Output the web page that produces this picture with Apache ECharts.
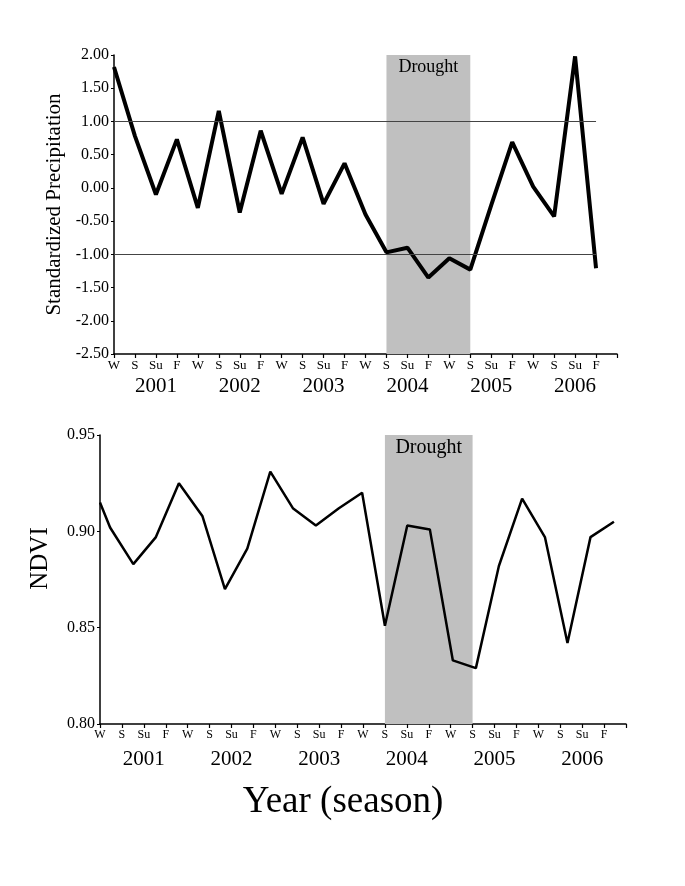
<!DOCTYPE html>
<html>
<head>
<meta charset="utf-8">
<script src="https://cdn.jsdelivr.net/npm/echarts@6/dist/echarts.min.js"></script>
<style>
  html, body { margin: 0; padding: 0; background: #fff; }
  #chart { width: 685px; height: 886px; }
</style>
</head>
<body>
<div id="chart"></div>
<script>
// season labels along both x axes (W, S, Su, F for 2001-2006)
const seasons = ["W", "S", "Su", "F", "W", "S", "Su", "F", "W", "S", "Su", "F",
  "W", "S", "Su", "F", "W", "S", "Su", "F", "W", "S", "Su", "F"];
const years = ["2001", "2002", "2003", "2004", "2005", "2006"];

// top panel: standardized precipitation per season
const precip = [1.82, 0.78, -0.10, 0.73, -0.30, 1.16, -0.37, 0.86, -0.09, 0.76, -0.24, 0.37,
  -0.40, -0.97, -0.90, -1.35, -1.06, -1.23, -0.26, 0.69, 0.02, -0.43, 1.98, -1.21];
const precipTicks = { min: -2.5, max: 2.0, step: 0.5 };
const refLines = [1.0, -1.0];

// bottom panel: NDVI, sampled at these positions (in season units)
const ndviX = [0, 0.46, 1.52, 2.55, 3.6, 4.67, 5.7, 6.72, 7.77, 8.8, 9.85, 10.9,
  11.96, 13.0, 14.02, 15.05, 16.1, 17.15, 18.2, 19.26, 20.3, 21.33, 22.38, 23.45];
const ndvi = [0.915, 0.902, 0.883, 0.897, 0.925, 0.908, 0.870, 0.891, 0.931, 0.912, 0.903, 0.912,
  0.920, 0.851, 0.903, 0.901, 0.833, 0.829, 0.882, 0.917, 0.897, 0.842, 0.897, 0.905];
const ndviTicks = { min: 0.80, max: 0.95, step: 0.05 };

// drought period (season index range)
const drought = [13, 17];

const serif = "'Liberation Serif', 'DejaVu Serif', serif";

const chart = echarts.init(document.getElementById("chart"));

function seasonAxis(gridIndex, fontSize) {
  return {
    type: "value",
    gridIndex: gridIndex,
    min: 0,
    max: 24,
    interval: 1,
    axisLine: { onZero: false, lineStyle: { color: "#000", width: 1.5 } },
    axisTick: { show: true, length: 4, lineStyle: { color: "#000", width: 1.2 } },
    axisLabel: {
      color: "#000",
      fontFamily: serif,
      fontSize: fontSize,
      margin: 5,
      showMinLabel: true,
      showMaxLabel: true,
      formatter: (v) => seasons[v] || ""
    },
    splitLine: { show: false }
  };
}

function yearAxis(gridIndex, margin) {
  return {
    type: "value",
    gridIndex: gridIndex,
    min: 0,
    max: 24,
    interval: 1,
    position: "bottom",
    axisLine: { show: false, onZero: false },
    axisTick: { show: false },
    axisLabel: {
      color: "#000",
      fontFamily: serif,
      fontSize: 21,
      margin: margin,
      showMinLabel: true,
      showMaxLabel: true,
      formatter: (v) => (v % 4 === 2 ? years[(v - 2) / 4] : "")
    },
    splitLine: { show: false }
  };
}

const option = {
  animation: false,
  backgroundColor: "#fff",
  title: {
    text: "Year (season)",
    left: 338,
    top: 779,
    textAlign: "center",
    textStyle: { fontFamily: serif, fontSize: 37, fontWeight: "normal", color: "#000" }
  },
  grid: [
    { left: 114, top: 55, width: 503, height: 299 },
    { left: 100, top: 435, width: 526, height: 289 }
  ],
  xAxis: [
    seasonAxis(0, 13),
    yearAxis(0, 22),
    seasonAxis(1, 12),
    yearAxis(1, 25)
  ],
  yAxis: [
    {
      type: "value",
      gridIndex: 0,
      min: precipTicks.min,
      max: precipTicks.max,
      interval: precipTicks.step,
      name: "Standardized Precipitation",
      nameLocation: "middle",
      nameGap: 45,
      nameTextStyle: { fontFamily: serif, fontSize: 21, color: "#000" },
      axisLine: { show: true, onZero: false, lineStyle: { color: "#000", width: 1.5 } },
      axisTick: { show: true, length: 3, lineStyle: { color: "#000" } },
      axisLabel: {
        color: "#000", fontFamily: serif, fontSize: 16, margin: 5,
        formatter: (v) => v.toFixed(2)
      },
      splitLine: { show: false }
    },
    {
      type: "value",
      gridIndex: 1,
      min: ndviTicks.min,
      max: ndviTicks.max,
      interval: ndviTicks.step,
      name: "NDVI",
      nameLocation: "middle",
      nameGap: 47,
      nameTextStyle: { fontFamily: serif, fontSize: 25, color: "#000", padding: [0, 0, 0, 42] },
      axisLine: { show: true, onZero: false, lineStyle: { color: "#000", width: 1.5 } },
      axisTick: { show: true, length: 3, lineStyle: { color: "#000" } },
      axisLabel: {
        color: "#000", fontFamily: serif, fontSize: 16, margin: 5,
        formatter: (v) => v.toFixed(2)
      },
      splitLine: { show: false }
    }
  ],
  series: [
    {
      type: "line",
      xAxisIndex: 0,
      yAxisIndex: 0,
      data: precip.map((v, i) => [i, v]),
      symbol: "none",
      clip: false,
      lineStyle: { color: "#000", width: 4 },
      markArea: {
        silent: true,
        itemStyle: { color: "#c0c0c0" },
        label: {
          position: "insideTop",
          distance: 3,
          fontFamily: serif,
          fontSize: 18,
          color: "#000"
        },
        data: [[{ name: "Drought", xAxis: drought[0] }, { xAxis: drought[1] }]]
      },
      markLine: {
        silent: true,
        symbol: "none",
        label: { show: false },
        lineStyle: { color: "#444", width: 1, type: "solid" },
        data: refLines.map((y) => [{ coord: [0, y] }, { coord: [seasons.length - 1, y] }])
      },
      z: 3
    },
    {
      type: "line",
      xAxisIndex: 2,
      yAxisIndex: 1,
      data: ndviX.map((x, i) => [x, ndvi[i]]),
      symbol: "none",
      lineStyle: { color: "#000", width: 2.5 },
      markArea: {
        silent: true,
        itemStyle: { color: "#c0c0c0" },
        label: {
          position: "insideTop",
          distance: 3,
          fontFamily: serif,
          fontSize: 20,
          color: "#000"
        },
        data: [[{ name: "Drought", xAxis: drought[0] }, { xAxis: drought[1] }]]
      },
      z: 3
    }
  ]
};

chart.setOption(option);
</script>
</body>
</html>
